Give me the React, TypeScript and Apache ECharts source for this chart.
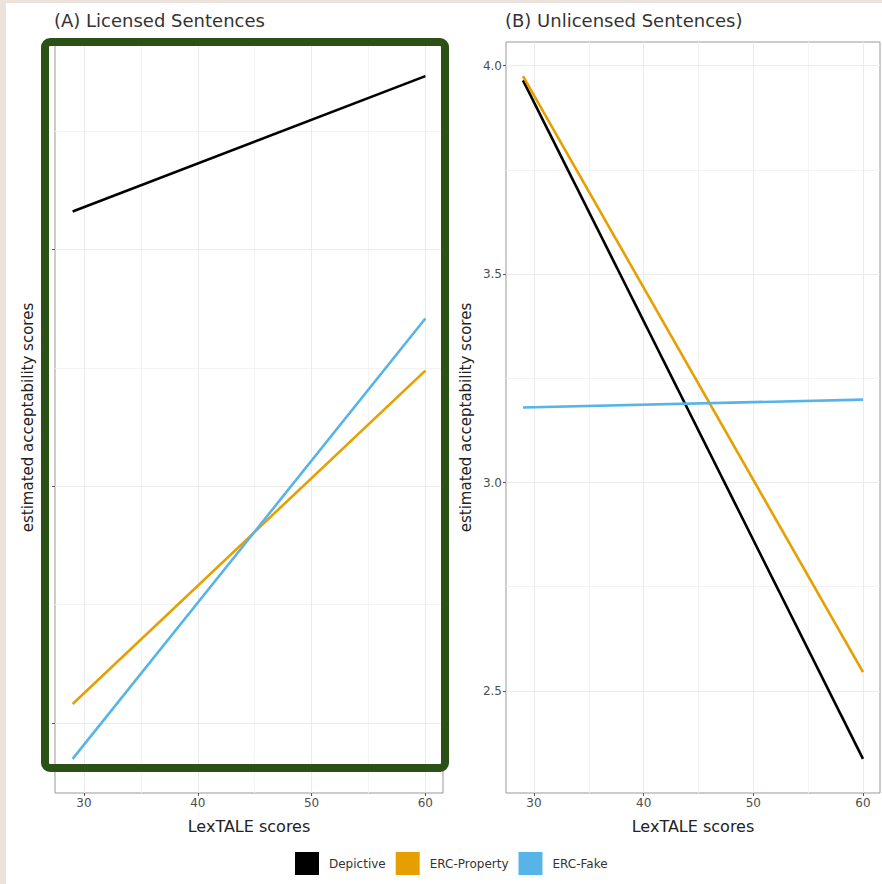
import React, { useEffect, useRef } from "react";
import * as echarts from "echarts";

// LexTALE score range covered by the fitted lines
const lexTale = [29, 60];

// (A) Licensed sentences — estimated acceptability scores
const licensedDepictive = [4.08, 4.366];
const licensedProperty = [3.04, 3.744];
const licensedFake = [2.924, 3.854];

// (B) Unlicensed sentences — estimated acceptability scores
const unlicensedDepictive = [3.965, 2.337];
const unlicensedProperty = [3.975, 2.545];
const unlicensedFake = [3.18, 3.199];

// ticks
const xMajor = [30, 40, 50, 60];
const xMinor = [35, 45, 55];
const yMajorA = [3.0, 3.5, 4.0];
const yMinorA = [3.25, 3.75, 4.25];
const yMajorB = [2.5, 3.0, 3.5, 4.0];
const yMinorB = [2.75, 3.25, 3.75];

const seriesNames = ["Depictive", "ERC-Property", "ERC-Fake"];
const seriesColors = ["#000000", "#E69F00", "#56B4E9"];

const FONT = "DejaVu Sans";

function expand(values: number[]) {
  const lo = Math.min(...values);
  const hi = Math.max(...values);
  const pad = (hi - lo) * 0.05;
  return { min: lo - pad, max: hi + pad };
}

export default function App() {
  const ref = useRef<HTMLDivElement>(null);

  useEffect(() => {
    document.body.style.margin = "0";
    if (!ref.current) return;
    const chart = echarts.init(ref.current, undefined, { renderer: "svg" });

    const xr = expand(lexTale);
    const yrA = expand([...licensedDepictive, ...licensedProperty, ...licensedFake]);
    const yrB = expand([...unlicensedDepictive, ...unlicensedProperty, ...unlicensedFake]);

    const majorSplit = { show: true, lineStyle: { color: "#ebebeb", width: 1 } };
    const minorSplit = { show: true, lineStyle: { color: "#f3f3f3", width: 1 } };
    const tickStyle = { show: true, length: 3, lineStyle: { color: "#555", width: 1 } };
    const labelStyle = { color: "#4d4d4d", fontSize: 12, fontFamily: FONT, margin: 4 };

    const mkX = (gridIndex: number) => [
      {
        type: "value",
        gridIndex,
        min: xr.min,
        max: xr.max,
        position: "bottom",
        axisLine: { show: false },
        axisTick: { ...tickStyle, customValues: xMajor },
        axisLabel: { ...labelStyle, customValues: xMajor, formatter: (v: number) => String(Math.round(v)) },
        splitLine: majorSplit,
        name: "LexTALE scores",
        nameLocation: "middle",
        nameGap: 25,
        nameTextStyle: { fontSize: 16, color: "#222", fontFamily: FONT },
        z: 2,
      },
      {
        type: "value",
        gridIndex,
        min: xr.min,
        max: xr.max,
        position: "top",
        axisLine: { show: false },
        axisTick: { show: false, customValues: xMinor },
        axisLabel: { show: false },
        splitLine: minorSplit,
        z: 1,
      },
    ];

    const mkY = (gridIndex: number, r: { min: number; max: number }, major: number[], minor: number[], showLabels: boolean, gap: number) => [
      {
        type: "value",
        gridIndex,
        min: r.min,
        max: r.max,
        position: "left",
        axisLine: { show: false },
        axisTick: { ...tickStyle, customValues: major },
        axisLabel: { ...labelStyle, show: showLabels, customValues: major, formatter: (v: number) => v.toFixed(1) },
        splitLine: majorSplit,
        name: "estimated acceptability scores",
        nameLocation: "middle",
        nameGap: gap,
        nameTextStyle: { fontSize: 15, color: "#222", fontFamily: FONT },
        z: 2,
      },
      {
        type: "value",
        gridIndex,
        min: r.min,
        max: r.max,
        position: "right",
        axisLine: { show: false },
        axisTick: { show: false, customValues: minor },
        axisLabel: { show: false },
        splitLine: minorSplit,
        z: 1,
      },
    ];

    const pair = (ys: number[]) => lexTale.map((x, i) => [x, ys[i]]);
    const dataA = [licensedDepictive, licensedProperty, licensedFake];
    const dataB = [unlicensedDepictive, unlicensedProperty, unlicensedFake];

    const series: any[] = [];
    dataA.forEach((d, i) =>
      series.push({
        type: "line",
        name: seriesNames[i],
        xAxisIndex: 0,
        yAxisIndex: 0,
        data: pair(d),
        symbol: "none",
        lineStyle: { color: seriesColors[i], width: 2.6 },
        itemStyle: { color: seriesColors[i] },
        z: 5,
      })
    );
    dataB.forEach((d, i) =>
      series.push({
        type: "line",
        name: seriesNames[i],
        xAxisIndex: 2,
        yAxisIndex: 2,
        data: pair(d),
        symbol: "none",
        lineStyle: { color: seriesColors[i], width: 2.6 },
        itemStyle: { color: seriesColors[i] },
        z: 5,
      })
    );

    chart.setOption({
      animation: false,
      backgroundColor: "#ece4dc",
      textStyle: { fontFamily: FONT },
      title: [
        {
          text: "(A) Licensed Sentences",
          left: 54,
          top: 11,
          padding: 0,
          textStyle: { fontSize: 18, fontWeight: "normal", color: "#333", fontFamily: FONT },
        },
        {
          text: "(B) Unlicensed Sentences)",
          left: 505,
          top: 11,
          padding: 0,
          textStyle: { fontSize: 18, fontWeight: "normal", color: "#333", fontFamily: FONT },
        },
      ],
      grid: [
        { left: 55, top: 42, width: 388, height: 751, show: true, backgroundColor: "#fff", borderColor: "#999", borderWidth: 1 },
        { left: 506, top: 42, width: 374, height: 751, show: true, backgroundColor: "#fff", borderColor: "#999", borderWidth: 1 },
      ],
      xAxis: [...mkX(0), ...mkX(1)],
      yAxis: [
        ...mkY(0, yrA, yMajorA, yMinorA, false, 20),
        ...mkY(1, yrB, yMajorB, yMinorB, true, 33),
      ],
      legend: {
        data: seriesNames.map((n, i) => ({ name: n, itemStyle: { color: seriesColors[i] } })),
        icon: "rect",
        left: 295,
        top: 852,
        padding: 0,
        itemWidth: 24,
        itemHeight: 23,
        itemGap: 10,
        textStyle: { fontSize: 12, color: "#333", fontFamily: FONT, padding: [0, 0, 0, 5] },
      },
      graphic: [
        {
          type: "rect",
          left: 6,
          top: 3,
          shape: { width: 876, height: 881 },
          style: { fill: "#ffffff" },
          z: -10,
          silent: true,
        },
        {
          type: "rect",
          shape: { x: 45, y: 42, width: 400, height: 726, r: 5 },
          style: { fill: "none", stroke: "#2b5116", lineWidth: 8 },
          z: 100,
          silent: true,
        },
      ],
      series,
    });

    return () => chart.dispose();
  }, []);

  return <div ref={ref} style={{ width: 882, height: 884 }} />;
}
